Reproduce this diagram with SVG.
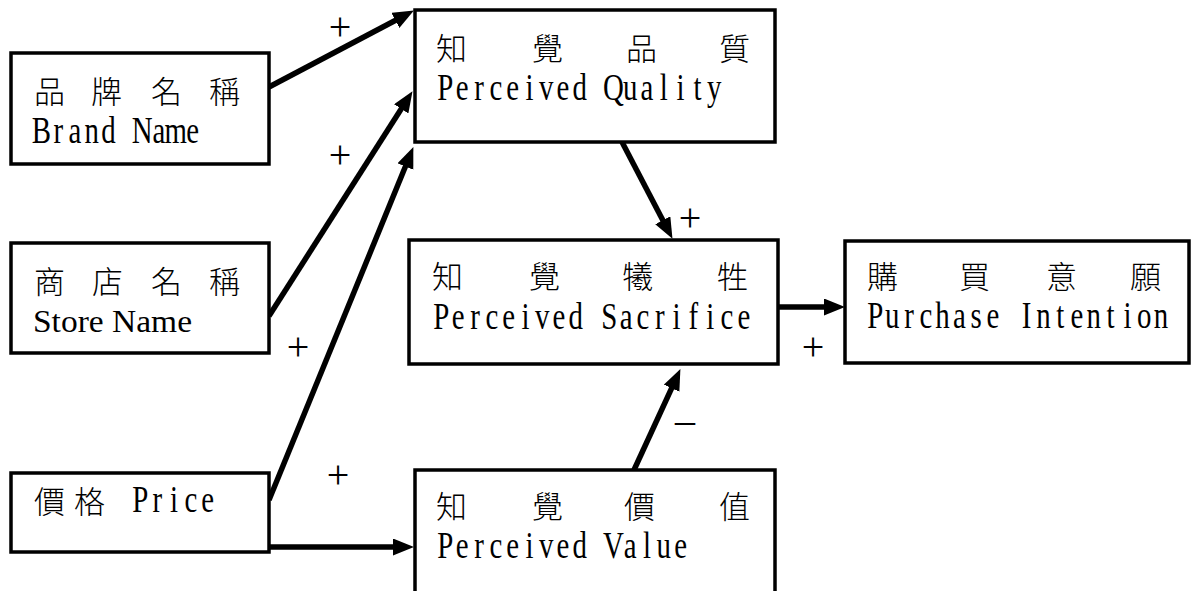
<svg xmlns="http://www.w3.org/2000/svg" width="1191" height="591" viewBox="0 0 1191 591">
  <style>
    .box { fill: #fff; stroke: #000; stroke-width: 3.5; }
    .zh { font-family: "Noto Sans CJK TC", "Noto Sans CJK SC", sans-serif; font-size: 31px; font-weight: 300; fill: #000; }
    /* half-width Latin: serif glyphs set on a fixed 16.8px pitch, each glyph centred in its cell */
    .en { font-family: "Liberation Serif", serif; font-size: 37px; fill: #000; text-anchor: middle; }
    .ens { font-family: "Liberation Serif", serif; font-size: 32px; fill: #000; }
    .sign { font-family: "Liberation Serif", serif; font-size: 40px; fill: #000; text-anchor: middle; }
    .link { fill: none; stroke: #000; stroke-width: 5.5; marker-end: url(#head); }
  </style>
  <defs>
    <marker id="head" markerUnits="userSpaceOnUse" markerWidth="24" markerHeight="20" refX="10" refY="8.5" orient="auto">
      <path d="M0,0 L21,8.5 L0,17 z" fill="#000"/>
    </marker>
  </defs>
  <rect width="1191" height="591" fill="#fff"/>

  <!-- connectors -->
  <g id="connectors">
    <line class="link" x1="269" y1="87" x2="404.2" y2="15.7"/>
    <line class="link" x1="269" y1="316" x2="406.6" y2="100.4"/>
    <line class="link" x1="269" y1="500" x2="409.2" y2="157.3"/>
    <line class="link" x1="269" y1="547" x2="403" y2="547"/>
    <line class="link" x1="622" y1="142" x2="667.4" y2="229.1"/>
    <line class="link" x1="778" y1="307" x2="834" y2="307"/>
    <line class="link" x1="634" y1="470" x2="675.8" y2="379.1"/>
    <text class="sign" x="340" y="40">+</text>
    <text class="sign" x="340" y="168">+</text>
    <text class="sign" x="298" y="360">+</text>
    <text class="sign" x="338" y="488">+</text>
    <text class="sign" x="690" y="231">+</text>
    <text class="sign" x="813" y="360">+</text>
    <text class="sign" font-size="30" x="685" y="433">–</text>
  </g>

  <g id="brand-name">
    <rect class="box" x="11" y="53" width="258" height="111"/>
    <text class="zh" y="103"><tspan x="34">品</tspan><tspan x="91">牌</tspan><tspan x="151">名</tspan><tspan x="209">稱</tspan></text>
    <text class="en" transform="translate(33,143) scale(0.78,1)" y="0" x="10.77 32.31 53.85 75.38 96.92 118.46 140 161.54 183.08 204.62">Brand Name</text>
  </g>

  <g id="store-name">
    <rect class="box" x="11" y="243" width="258" height="110"/>
    <text class="zh" y="293"><tspan x="34">商</tspan><tspan x="92">店</tspan><tspan x="151">名</tspan><tspan x="209">稱</tspan></text>
    <text class="ens" x="33" y="332" textLength="159" lengthAdjust="spacingAndGlyphs">Store Name</text>
  </g>

  <g id="price">
    <rect class="box" x="11" y="473" width="258" height="79"/>
    <text class="zh" y="513"><tspan x="34">價</tspan><tspan x="74">格</tspan></text>
    <text class="en" transform="translate(132,512) scale(0.78,1)" y="0" x="10.77 32.31 53.85 75.38 96.92">Price</text>
  </g>

  <g id="perceived-quality">
    <rect class="box" x="415" y="10" width="360" height="132"/>
    <text class="zh" y="60"><tspan x="436">知</tspan><tspan x="532">覺</tspan><tspan x="626">品</tspan><tspan x="719">質</tspan></text>
    <text class="en" transform="translate(437,100) scale(0.78,1)" y="0" x="10.77 32.31 53.85 75.38 96.92 118.46 140 161.54 183.08 204.62 226.15 247.69 269.23 290.77 312.31 333.85 355.38">Perceived Quality</text>
  </g>

  <g id="perceived-sacrifice">
    <rect class="box" x="409" y="240" width="369" height="124"/>
    <text class="zh" y="288"><tspan x="432">知</tspan><tspan x="529">覺</tspan><tspan x="622">犧</tspan><tspan x="717">牲</tspan></text>
    <text class="en" transform="translate(433,329) scale(0.78,1)" y="0" x="10.77 32.31 53.85 75.38 96.92 118.46 140 161.54 183.08 204.62 226.15 247.69 269.23 290.77 312.31 333.85 355.38 376.92 398.46">Perceived Sacrifice</text>
  </g>

  <g id="purchase-intention">
    <rect class="box" x="845" y="241" width="344" height="122"/>
    <text class="zh" y="288"><tspan x="867">購</tspan><tspan x="959">買</tspan><tspan x="1046">意</tspan><tspan x="1130">願</tspan></text>
    <text class="en" transform="translate(867,328) scale(0.78,1)" y="0" x="10.77 32.31 53.85 75.38 96.92 118.46 140 161.54 183.08 204.62 226.15 247.69 269.23 290.77 312.31 333.85 355.38 376.92">Purchase Intention</text>
  </g>

  <g id="perceived-value">
    <rect class="box" x="415" y="470" width="360" height="140"/>
    <text class="zh" y="518"><tspan x="436">知</tspan><tspan x="532">覺</tspan><tspan x="624">價</tspan><tspan x="719">值</tspan></text>
    <text class="en" transform="translate(437,558) scale(0.78,1)" y="0" x="10.77 32.31 53.85 75.38 96.92 118.46 140 161.54 183.08 204.62 226.15 247.69 269.23 290.77 312.31">Perceived Value</text>
  </g>
</svg>
